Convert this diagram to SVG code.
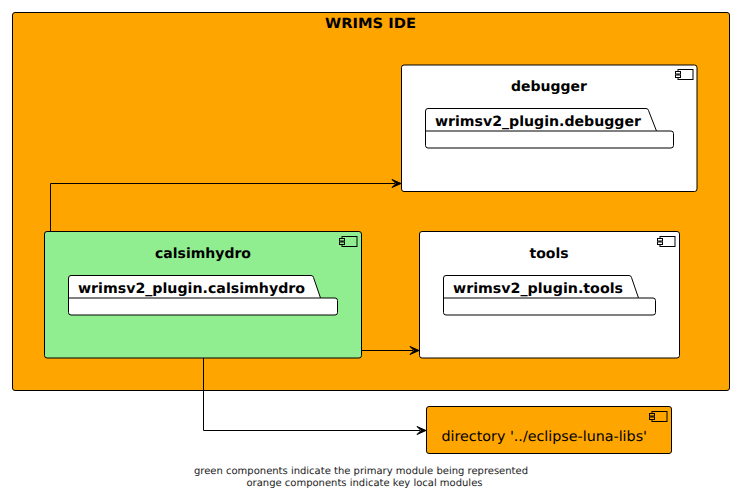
<svg xmlns="http://www.w3.org/2000/svg" width="734" height="499" viewBox="0 0 734 499">
<style>
text{font-family:"DejaVu Sans",Verdana,sans-serif;fill:#000;text-rendering:geometricPrecision}
.b{fill:#fff;stroke:#000;stroke-width:1}
.s{stroke:#000;stroke-width:1}
.t{font-size:14px;font-weight:700;text-anchor:middle}
.p{font-size:14px;font-weight:700}
.c{font-size:10px;fill:#222;text-anchor:middle}
.l{fill:none;stroke:#000;stroke-width:1}
.a{fill:#000;stroke:#000;stroke-width:1}
</style>
<defs>
<g id="icon"><rect x="2.500" y="0" width="15" height="10" class="s" fill="inherit"/><rect x="0" y="2" width="5" height="2.500" class="s" fill="inherit"/><rect x="0" y="5.500" width="5" height="2.500" class="s" fill="inherit"/></g>
</defs>
<g id="wrims-ide">
<rect x="12.500" y="12.500" width="717" height="378" rx="2.500" fill="#FFA500" stroke="#000" stroke-width="1"/>
<text x="370.500" y="28" class="t" textLength="91" lengthAdjust="spacingAndGlyphs">WRIMS IDE</text>
</g>
<g id="debugger">
<rect x="401.500" y="65" width="295.500" height="126.500" rx="2.500" class="b"/>
<use href="#icon" x="675.500" y="69.500" fill="#fff"/>
<text x="549" y="91" class="t">debugger</text>
<path d="M425.500 131V111a2.500 2.500 0 0 1 2.500-2.500H646a2.500 2.500 0 0 1 2.500 2L656.500 131H671a2.500 2.500 0 0 1 2.500 2.500V145.500a2.500 2.500 0 0 1-2.500 2.500H428a2.500 2.500 0 0 1-2.500-2.500Z" class="b"/>
<path d="M425.500 131H656.500" class="l"/>
<text x="435" y="125.500" class="p" textLength="206" lengthAdjust="spacingAndGlyphs">wrimsv2_plugin.debugger</text>
</g>
<g id="calsimhydro">
<rect x="44.500" y="231.500" width="317" height="126.500" rx="2.500" fill="#90EE90" stroke="#000"/>
<use href="#icon" x="339.500" y="236.500" fill="#90EE90"/>
<text x="203" y="258" class="t">calsimhydro</text>
<path d="M68.500 298V278a2.500 2.500 0 0 1 2.500-2.500H311a2.500 2.500 0 0 1 2.500 2L320.500 298H335a2.500 2.500 0 0 1 2.500 2.500V312.500a2.500 2.500 0 0 1-2.500 2.500H71a2.500 2.500 0 0 1-2.500-2.500Z" class="b"/>
<path d="M68.500 298H320.500" class="l"/>
<text x="78" y="292.500" class="p" textLength="227" lengthAdjust="spacingAndGlyphs">wrimsv2_plugin.calsimhydro</text>
</g>
<g id="tools">
<rect x="419.500" y="231.500" width="260" height="126.500" rx="2.500" class="b"/>
<use href="#icon" x="657.500" y="236.500" fill="#fff"/>
<text x="549" y="258" class="t">tools</text>
<path d="M443.500 298V278a2.500 2.500 0 0 1 2.500-2.500H629a2.500 2.500 0 0 1 2.500 2L638.500 298H653a2.500 2.500 0 0 1 2.500 2.500V312.500a2.500 2.500 0 0 1-2.500 2.500H446a2.500 2.500 0 0 1-2.500-2.500Z" class="b"/>
<path d="M443.500 298H638.500" class="l"/>
<text x="453" y="292.500" class="p" textLength="170" lengthAdjust="spacingAndGlyphs">wrimsv2_plugin.tools</text>
</g>
<g id="eclipse-luna-libs">
<rect x="426.500" y="406.500" width="245" height="47" rx="2.500" fill="#FFA500" stroke="#000"/>
<use href="#icon" x="649.500" y="411.500" fill="#FFA500"/>
<text x="441.500" y="441" font-size="14px" textLength="205.500" lengthAdjust="spacingAndGlyphs">directory '../eclipse-luna-libs'</text>
</g>
<g id="connectors">
<path d="M50.500 231V183.500H395" class="l"/>
<path d="M401 183.500l-9-4 4 4-4 4z" class="a"/>
<path d="M361.500 350.500H413" class="l"/>
<path d="M419 350.500l-9-4 4 4-4 4z" class="a"/>
<path d="M203.500 358V430.500H420" class="l"/>
<path d="M426 430.500l-9-4 4 4-4 4z" class="a"/>
</g>
<g id="caption">
<text x="361" y="474" class="c" textLength="334" lengthAdjust="spacingAndGlyphs">green components indicate the primary module being represented</text>
<text x="364.500" y="486" class="c" textLength="236" lengthAdjust="spacingAndGlyphs">orange components indicate key local modules</text>
</g>
</svg>
